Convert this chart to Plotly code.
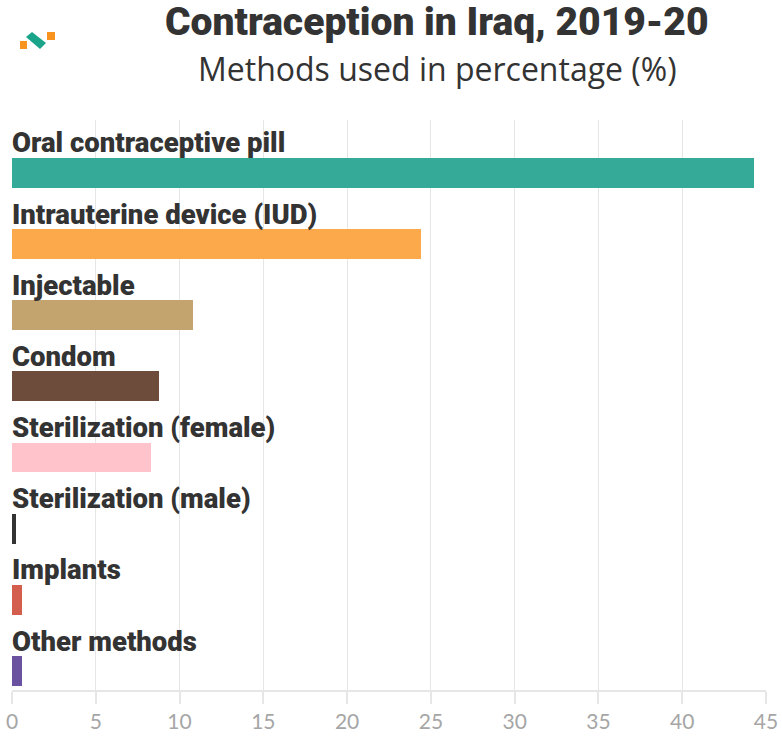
import plotly.graph_objects as go

# Contraceptive methods used in Iraq, 2019-20 (% of users)
methods = [
    "Oral contraceptive pill",
    "Intrauterine device (IUD)",
    "Injectable",
    "Condom",
    "Sterilization (female)",
    "Sterilization (male)",
    "Implants",
    "Other methods",
]
shares = [44.3, 24.4, 10.8, 8.8, 8.3, 0.25, 0.6, 0.6]
bar_colors = ["#36aa98", "#fba94b", "#c3a46e", "#6e4c3c",
              "#fec3cb", "#333333", "#d45e4e", "#6b52a1"]
x_ticks = [0, 5, 10, 15, 20, 25, 30, 35, 40, 45]

# page geometry (pixels) used to place paper-referenced items
W, H = 782, 741
ML, MR, MT, MB = 12, 16, 120, 51
PW, PH = W - ML - MR, H - MT - MB


def px_x(p):
    return (p - ML) / PW


def px_y(p):
    return (H - MB - p) / PH


fig = go.Figure(
    go.Bar(
        x=shares,
        y=list(range(len(methods))),
        orientation="h",
        marker=dict(color=bar_colors, line=dict(width=0)),
        width=0.42,
        hoverinfo="skip",
    )
)

annotations = []
for i, name in enumerate(methods):
    annotations.append(dict(
        x=0, y=i, xref="x", yref="y", text=name, showarrow=False,
        xanchor="left", yanchor="middle", yshift=30, xshift=-2,
        font=dict(family="Roboto", size=27.5, color="#333333", weight=900),
    ))

annotations.append(dict(
    x=px_x(437), y=px_y(22), xref="paper", yref="paper",
    text="Contraception in Iraq, 2019-20", showarrow=False,
    xanchor="center", yanchor="middle",
    font=dict(family="Roboto", size=39, color="#333333", weight=900),
))
annotations.append(dict(
    x=px_x(437), y=px_y(69), xref="paper", yref="paper",
    text="Methods used in percentage (%)", showarrow=False,
    xanchor="center", yanchor="middle",
    font=dict(family="Open Sans", size=32, color="#333333"),
))

# small brand mark at the top left
shapes = [
    dict(type="rect", xref="paper", yref="paper",
         x0=px_x(20), x1=px_x(27), y0=px_y(49), y1=px_y(41),
         fillcolor="#f7931e", line=dict(width=0)),
    dict(type="rect", xref="paper", yref="paper",
         x0=px_x(47), x1=px_x(55), y0=px_y(40), y1=px_y(32),
         fillcolor="#f7931e", line=dict(width=0)),
    dict(type="path", xref="paper", yref="paper",
         path=(f"M {px_x(26)},{px_y(37)} L {px_x(32)},{px_y(32)} "
               f"L {px_x(46)},{px_y(43)} L {px_x(40)},{px_y(49)} Z"),
         fillcolor="#1aa58b", line=dict(width=0)),
]

fig.update_layout(
    width=W, height=H,
    margin=dict(l=ML, r=MR, t=MT, b=MB, pad=0, autoexpand=False),
    paper_bgcolor="white", plot_bgcolor="white",
    showlegend=False,
    annotations=annotations,
    shapes=shapes,
    xaxis=dict(
        range=[0, 45], tickvals=x_ticks, showgrid=True,
        gridcolor="#e6e6e6", gridwidth=1, zeroline=False,
        showline=True, linecolor="#e6e6e6", linewidth=1.5,
        ticks="outside", ticklen=12, tickcolor="#e6e6e6", tickwidth=1.5,
        tickfont=dict(family="Lato", size=21, color="#a6a6a6"),
        automargin=False, fixedrange=True,
    ),
    yaxis=dict(
        range=[7.267, -0.744], showticklabels=False, showgrid=False,
        zeroline=False, showline=False, automargin=False, fixedrange=True,
    ),
    bargap=0,
)

fig.write_html("out.html", config={"displayModeBar": False})
